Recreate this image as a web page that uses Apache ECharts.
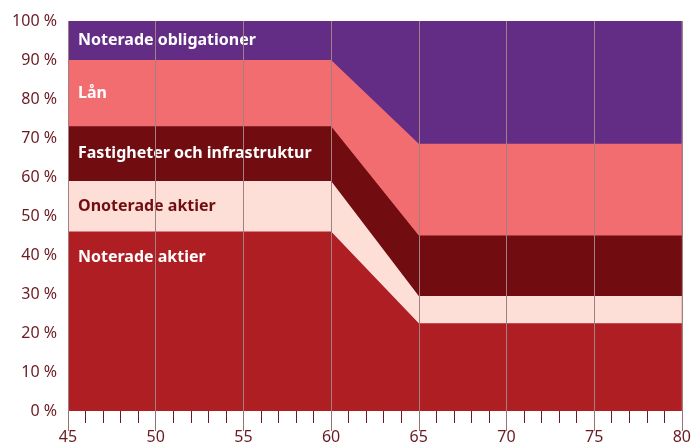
<!DOCTYPE html>
<html>
<head>
<meta charset="utf-8">
<script src="https://cdn.jsdelivr.net/npm/echarts@6/dist/echarts.min.js"></script>
<style>
  html, body { margin: 0; padding: 0; background: #fff; }
  #chart { width: 694px; height: 448px; }
</style>
</head>
<body>
<div id="chart"></div>
<script>
// ages on the x axis
const ages = [45, 50, 55, 60, 65, 70, 75, 80];

// share of portfolio in percent, stacked bottom to top
const noteradeAktier = [46, 46, 46, 46, 22.5, 22.5, 22.5, 22.5];
const onoteradeAktier = [13, 13, 13, 13, 7, 7, 7, 7];
const fastigheter = [14, 14, 14, 14, 15.5, 15.5, 15.5, 15.5];
const lan = [17, 17, 17, 17, 23.5, 23.5, 23.5, 23.5];
const obligationer = [10, 10, 10, 10, 31.5, 31.5, 31.5, 31.5];

const names = ['Noterade aktier', 'Onoterade aktier', 'Fastigheter och infrastruktur', 'Lån', 'Noterade obligationer'];
const colors = ['#ae1e23', '#fddfd8', '#710c10', '#f26d70', '#632d86'];
const labelColors = ['#ffffff', '#710c10', '#ffffff', '#ffffff', '#ffffff'];
const values = [noteradeAktier, onoteradeAktier, fastigheter, lan, obligationer];

// running totals, so each band is an area filled down to zero and drawn over the ones above it
const totals = [];
values.forEach((vals, i) => {
    totals.push(vals.map((v, j) => v + (i > 0 ? totals[i - 1][j] : 0)));
});

const textColor = '#6b1a22';
const chart = echarts.init(document.getElementById('chart'));

chart.setOption({
    animation: false,
    grid: { left: 68, right: 12, top: 21, bottom: 37 },
    xAxis: {
        type: 'value',
        min: 45,
        max: 80,
        interval: 5,
        z: 5,
        axisLine: { show: false },
        axisTick: { show: true, length: 20, lineStyle: { color: '#9a7070', width: 1 } },
        minorTick: { show: true, splitNumber: 5, length: 12, lineStyle: { color: textColor, width: 1 } },
        axisLabel: { color: textColor, fontSize: 16, fontFamily: 'Noto Sans', margin: 18, showMinLabel: true, showMaxLabel: true },
        splitLine: { show: true, lineStyle: { color: '#a08080', width: 1 } }
    },
    yAxis: {
        type: 'value',
        min: 0,
        max: 100,
        interval: 10,
        axisLine: { show: false },
        axisTick: { show: false },
        splitLine: { show: false },
        axisLabel: { color: textColor, fontSize: 16, fontFamily: 'Noto Sans', margin: 11, formatter: '{value} %' }
    },
    series: totals.map((tot, i) => ({
        name: names[i],
        type: 'line',
        symbol: 'none',
        z: 2 + (totals.length - i) * 0.1,
        lineStyle: { width: 0 },
        areaStyle: { color: colors[i], opacity: 1, origin: 'start' },
        data: ages.map((a, j) => [a, tot[j]])
    })).reverse()
});

// band labels, placed at the left edge inside each band
const texts = values.map((vals, i) => {
    const top = totals[i][0];
    const bottom = top - vals[0];
    const y = i === 0 ? top - 6.5 : (bottom + top) / 2;
    const p = chart.convertToPixel({ gridIndex: 0 }, [ages[0], y]);
    return {
        type: 'text',
        x: p[0] + 10,
        y: p[1],
        z: 4,
        style: {
            text: names[i],
            fill: labelColors[i],
            font: 'bold 16px "Noto Sans"',
            verticalAlign: 'middle'
        }
    };
});
chart.setOption({ graphic: texts });
</script>
</body>
</html>
